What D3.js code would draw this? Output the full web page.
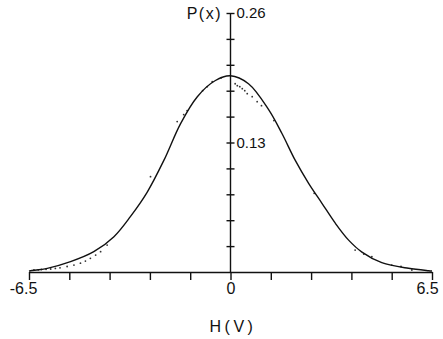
<!DOCTYPE html>
<html>
<head>
<meta charset="utf-8">
<script src="https://cdn.jsdelivr.net/npm/d3@7"></script>
<style>
  body { margin: 0; background: #fff; }
  text { font-family: "Liberation Sans", Arial, sans-serif; fill: #111; }
</style>
</head>
<body>
<div id="main"></div>
<script>
/// data ///
const curveX = [-6.5, -6.45, -5.91, -5.16, -4.41, -3.76, -3.23, -2.69, -2.15, -1.61, -1.07, -0.5, 0,
                0.58, 1.23, 1.66, 2.09, 2.52, 2.95, 3.38, 3.81, 4.24, 4.88, 5.74, 6.39, 6.5];
const curveP = [0.001, 0.0013, 0.0037, 0.0104, 0.0204, 0.0355, 0.0556, 0.08, 0.112, 0.149, 0.176, 0.192, 0.197,
                0.189, 0.163, 0.139, 0.112, 0.089, 0.069, 0.049, 0.032, 0.020, 0.0094, 0.0037, 0.0013, 0.001];

// scattered measured points
const dotX = [-6.34, -6.2, -6.1, -5.95, -5.8, -5.65, -5.5, -5.27, -5.05, -4.84, -4.68, -4.52, -4.35, -4.19, -3.98,
              -2.58, -1.72, -1.51, -1.40, -0.9, -0.75, -0.59, -0.3,
              0.15, 0.22, 0.3, 0.38, 0.46, 0.54, 0.7, 0.86, 1.0, 1.4, 2.7, 4.02, 4.3, 4.56, 5.2, 5.5, 5.85];
const dotP = [0.002, 0.0022, 0.0025, 0.0027, 0.003, 0.0036, 0.0042, 0.0055, 0.007, 0.0089, 0.011, 0.0137, 0.017, 0.0204, 0.027,
              0.0957, 0.151, 0.158, 0.162, 0.182, 0.186, 0.191, 0.195,
              0.189, 0.187, 0.186, 0.184, 0.182, 0.179, 0.176, 0.171, 0.167, 0.152, 0.079, 0.022, 0.018, 0.0154, 0.007, 0.0055, 0.002];

const xTicks = [-6.5, -5.2, -3.9, -2.6, -1.3, 0, 1.3, 2.6, 3.9, 5.2, 6.5];
const xLabels = { '-6.5': '-6.5', '0': '0', '6.5': '6.5' };
const yTicks = [0.026, 0.052, 0.078, 0.104, 0.13, 0.156, 0.182, 0.208, 0.234, 0.26];
const yLabels = { '0.13': '0.13', '0.26': '0.26' };

/// chart ///
const w = 443;
const h = 339;

let svg = d3.select('#main')
    .append('svg')
    .attr('width', w)
    .attr('height', h);

let xScale = d3.scaleLinear()
    .domain([-6.5, 6.5])
    .range([29, 432]);

let yScale = d3.scaleLinear()
    .domain([0, 0.26])
    .range([272, 13]);

// x axis, ticks pointing down, only three labels
let xAxis = d3.axisBottom(xScale)
    .tickValues(xTicks)
    .tickSize(8)
    .tickSizeOuter(0)
    .tickPadding(3)
    .tickFormat(d => xLabels[String(+d.toFixed(1))] || '');

let gx = svg.append('g')
    .attr('transform', 'translate(0,' + yScale(0) + ')')
    .call(xAxis);
gx.selectAll('text')
    .style('font-size', '16px')
    .attr('dx', d => d < 0 ? -6 : (d > 0 ? -5 : 0));

// y axis at x = 0, ticks crossing the line, labels on the right
let yAxis = d3.axisRight(yScale)
    .tickValues(yTicks)
    .tickSize(4)
    .tickSizeOuter(0)
    .tickPadding(2)
    .tickFormat(d => yLabels[String(+d.toFixed(3))] || '');

let gy = svg.append('g')
    .attr('transform', 'translate(' + xScale(0) + ',0)')
    .call(yAxis);
gy.select('.domain').attr('d', 'M0,' + yScale(0.26) + 'V' + yScale(0));
gy.selectAll('line').attr('x1', -4).attr('x2', 4);
gy.selectAll('text').style('font-size', '15px').attr('dx', 0);

svg.selectAll('.domain, .tick line')
    .attr('stroke', '#111')
    .attr('stroke-width', 1.4);

// measured points
svg.selectAll('circle')
    .data(dotX)
    .enter()
    .append('circle')
    .attr('cx', d => xScale(d))
    .attr('cy', (d, i) => yScale(dotP[i]))
    .attr('r', 0.9)
    .attr('fill', '#333');

// fitted curve
let line = d3.line()
    .x(d => xScale(d[0]))
    .y(d => yScale(d[1]))
    .curve(d3.curveCatmullRom);

svg.append('path')
    .datum(curveX.map((x, i) => [x, curveP[i]]))
    .attr('d', line)
    .attr('fill', 'none')
    .attr('stroke', '#111')
    .attr('stroke-width', 1.4);

// axis titles
svg.append('text')
    .attr('x', 222)
    .attr('y', 19)
    .style('text-anchor', 'end')
    .style('font-size', '16px')
    .style('letter-spacing', '1.5px')
    .text('P(x)');

svg.append('text')
    .attr('x', 233)
    .attr('y', 332)
    .style('text-anchor', 'middle')
    .style('font-size', '16px')
    .style('letter-spacing', '3.5px')
    .text('H(V)');
</script>
</body>
</html>
